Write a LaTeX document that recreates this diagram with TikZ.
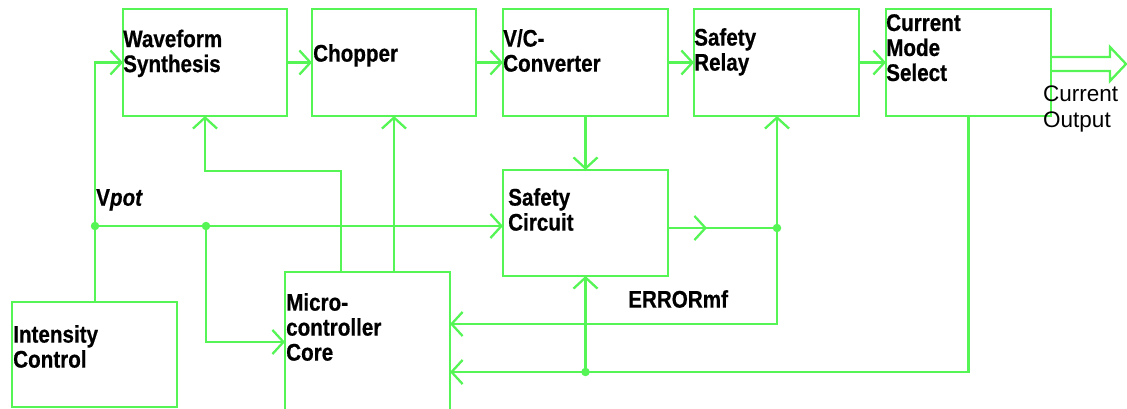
\documentclass[tikz,border=0pt]{standalone}
\usepackage{fontspec}
\setmainfont{Liberation Sans}
\newfontfamily\blk[FakeStretch=0.86,FakeBold=0.6]{Liberation Sans}
\usetikzlibrary{arrows.meta}
\definecolor{lg}{RGB}{85,245,85}
\tikzset{
  box/.style={draw=lg, line width=2.3pt, rectangle, inner sep=0pt, outer sep=0pt, anchor=north west},
  arr/.style={draw=lg, line width=2.3pt, -{Straight Barb[length=11pt,width=24pt]}},
  wire/.style={draw=lg, line width=2.3pt},
  lbl/.style={anchor=north west, inner sep=0pt, align=left, font=\blk\bfseries\fontsize{24}{25}\selectfont},
  plain/.style={anchor=north west, inner sep=0pt, align=left, font=\fontsize{22.5}{26}\selectfont},
  dot/.style={fill=lg, circle, inner sep=0pt, minimum size=8.5pt}
}
\begin{document}
\begin{tikzpicture}[x=1pt,y=-1pt]
\useasboundingbox (0,0) rectangle (1127,409);
\clip (0,0) rectangle (1127,409);
% boxes
\node[box, minimum width=164pt, minimum height=107pt] (ws) at (123,9) {};
\node[box, minimum width=164pt, minimum height=107pt] (ch) at (312,9) {};
\node[box, minimum width=165pt, minimum height=107pt] (vc) at (503,9) {};
\node[box, minimum width=165pt, minimum height=107pt] (sr) at (694,9) {};
\node[box, minimum width=165pt, minimum height=107pt] (cms) at (886,9) {};
\node[box, minimum width=165pt, minimum height=106pt] (sc) at (503,170) {};
\node[box, minimum width=165pt, minimum height=160pt] (mc) at (285,272) {};
\node[box, minimum width=165pt, minimum height=105pt] (ic) at (12,302) {};
% labels
\node[lbl] (ws-t) at (123,29.5) {Waveform\\Synthesis};
\node[lbl] (ch-t) at (313,44) {Chopper};
\node[lbl] (vc-t) at (503,29) {V/C-\\Converter};
\node[lbl] (sr-t) at (694,28) {Safety\\Relay};
\node[lbl] (cms-t) at (886,14) {Current\\Mode\\Select};
\node[lbl] (sc-t) at (508,188) {Safety\\Circuit};
\node[lbl] (mc-t) at (286,293) {Micro-\\controller\\Core};
\node[lbl] (ic-t) at (13,325) {Intensity\\Control};
\node[lbl] (vp-t) at (96,189) {V{\itshape pot}};
\node[lbl] (err-t) at (628,290) {ERRORmf};
\node[plain] (co-t) at (1043,86) {Current\\Output};
% coordinates
\coordinate (vp) at (95,226);
\coordinate (d2) at (206,226);
\coordinate (j) at (777,228);
\coordinate (e1) at (777,324);
\coordinate (d3) at (585.5,372);
% top chain
\draw[arr] (ic.north -| vp) |- (ws.west);
\draw[arr] (ws.east) -- (ch.west);
\draw[arr] (ch.east) -- (vc.west);
\draw[arr] (vc.east) -- (sr.west);
\draw[arr] (sr.east) -- (cms.west);
% current output
\draw[wire, line join=miter] ([yshift=5.5pt]cms.east) -- ++(59,0) -- ++(0,-10) -- ++(16,17) -- ++(-16,17) -- ++(0,-10) -- ([yshift=-8.5pt]cms.east);
% Vpot
\draw[arr] (vp) -- (sc.west |- vp);
\draw[arr] (d2) |- (mc.north west |- 0,342);
\draw[arr] ([xshift=-26.5pt]mc.north) -- ++(0,-101) -| (ws.south);
\draw[arr] (mc.north -| ch.south) -- (ch.south);
\draw[arr] (vc.south) -- (sc.north);
% safety circuit out
\draw[wire] (sc.east |- j) -- (j);
\draw[arr] (sc.east |- j) -- ++(39,0);
\draw[arr] (j) -- (j |- sr.south);
\draw[arr] (j) -- (e1) -- (e1 -| mc.east);
\draw[arr] (cms.south) |- (mc.east |- d3);
\draw[arr] (d3) -- (sc.south);
% dots
\node[dot] (dot1) at (vp) {};
\node[dot] (dot2) at (d2) {};
\node[dot] (dot3) at (j) {};
\node[dot] (dot4) at (d3) {};
\end{tikzpicture}
\end{document}
